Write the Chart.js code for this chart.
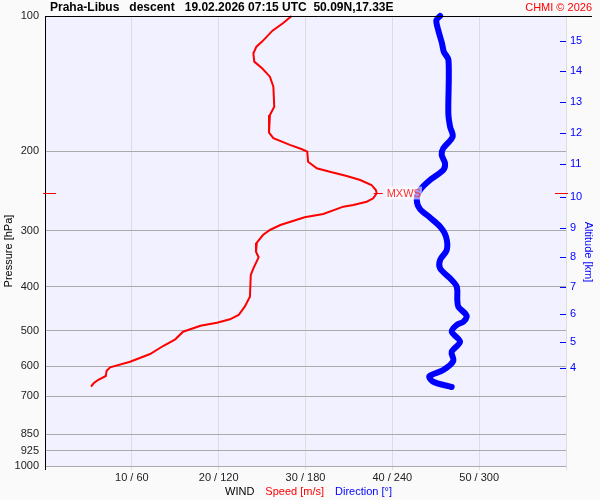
<!DOCTYPE html>
<html lang="en">
<head>
  <meta charset="UTF-8" />
  <title>Praha-Libus descent</title>
  <script src="https://cdn.jsdelivr.net/npm/chart.js"></script>
  <style>
    html, body { margin: 0; padding: 0; background: #fafafa; }
    #wrap { width: 600px; height: 500px; }
  </style>
</head>
<body>
  <div id="wrap"><canvas id="myChart" width="600" height="500"></canvas></div>

  <script>
    // pressure levels on the left axis (hPa)
    const pressTicks = [100, 200, 300, 400, 500, 600, 700, 850, 925, 1000];
    // altitude ticks on the right axis (km) and the pressure they sit at
    const altKm = [15, 14, 13, 12, 11, 10, 9, 8, 7, 6, 5, 4];
    const altP = [113.5, 132.7, 155.3, 182.3, 213.3, 252.1, 295.9, 343.8, 400.8, 460.1, 529.4, 604.7];
    // wind speed profile (m/s)
    const speedP = [100, 103.8, 107.8, 114.0, 117.0, 121.0, 126.3, 130.7, 136.4, 143.6,
      159.1, 166.0, 181.6, 186.9, 193.4, 197.8, 200.2, 210.8, 218.0, 221.8,
      226.7, 231.4, 237.4, 243.6, 247.7, 254.2, 258.6, 263.0, 265.3, 275.4,
      280.1, 291.4, 298.9, 306.7, 319.0, 334.0, 343.8, 363.7, 376.3, 420.6,
      442.6, 461.8, 472.1, 480.4, 487.8, 503.0, 523.0, 541.2, 563.8, 586.4,
      603.5, 614.1, 631.0, 644.0, 655.0, 666.5];
    const speedV = [28.4, 27.4, 26.2, 25.0, 24.35, 24.0, 24.1, 25.0, 25.9, 26.3,
      26.4, 25.9, 25.8, 26.3, 28.2, 29.6, 30.2, 30.3, 31.3, 32.8,
      34.75, 36.3, 37.6, 38.1, 38.2, 37.8, 37.05, 35.5, 34.35, 32.05,
      29.9, 27.1, 25.9, 25.1, 24.4, 24.3, 24.6, 24.0, 23.7, 23.6,
      23.0, 22.3, 21.3, 19.8, 17.9, 15.9, 15.0, 13.6, 12.1, 9.8,
      7.5, 7.1, 7.0, 6.1, 5.6, 5.3];
    // wind direction profile (deg)
    const dirP = [100, 102.1, 107.4, 115.0, 120.1, 125.3, 164.5, 176.2, 185.4, 196.8,
      203.6, 212.4, 219.9, 231.4, 243.6, 256.4, 268.5, 280.4, 293.9, 309.4,
      331.1, 348.5, 363.7, 382.8, 399.6, 427.8, 442.6, 457.8, 465.8, 477.9,
      486.0, 503.0, 529.4, 557.2, 584.3, 611.9, 631.9, 649.7, 667.5];
    const dirV = [273.0, 270.4, 271.7, 274.3, 275.6, 278.8, 278.7, 279.9, 281.7, 275.2,
      274.1, 276.4, 275.2, 266.0, 259.1, 256.9, 259.1, 266.0, 273.0, 277.1,
      277.6, 273.0, 273.0, 279.9, 284.5, 284.9, 285.6, 290.2, 291.4, 289.1,
      284.5, 281.0, 286.8, 281.0, 282.1, 275.2, 265.6, 268.3, 281.0];

    const FONT = '"Liberation Sans", Arial, sans-serif';

    // backgrounds, titles, altitude tick marks, MXWS marker
    const decor = {
      id: 'decor',
      beforeDraw(chart) {
        const { ctx, chartArea: a } = chart;
        ctx.save();
        ctx.fillStyle = '#fafafa';
        ctx.fillRect(0, 0, chart.width, chart.height);
        ctx.fillStyle = '#f1f1ff';
        ctx.fillRect(a.left, a.top, a.right - a.left, a.bottom - a.top);
        ctx.restore();
      },
      afterDraw(chart) {
        const { ctx, chartArea: a, scales } = chart;
        ctx.save();
        // frame lines
        ctx.strokeStyle = '#000';
        ctx.lineWidth = 1;
        ctx.beginPath();
        ctx.moveTo(a.left, a.top + 0.5);
        ctx.lineTo(592, a.top + 0.5);
        ctx.moveTo(a.left + 0.5, a.top);
        ctx.lineTo(a.left + 0.5, a.bottom + 4);
        ctx.stroke();

        // altitude tick marks (inside the plot)
        ctx.strokeStyle = '#0000ff';
        ctx.beginPath();
        altP.forEach(p => {
          const y = Math.round(scales.alt.getPixelForValue(p)) + 0.5;
          ctx.moveTo(a.right - 6, y);
          ctx.lineTo(a.right, y);
        });
        ctx.stroke();

        // max wind marker
        let mi = 0;
        speedV.forEach((v, i) => { if (v > speedV[mi]) mi = i; });
        const my = Math.round(scales.y.getPixelForValue(speedP[mi])) + 0.5;
        const mx = scales.x.getPixelForValue(speedV[mi]);
        ctx.strokeStyle = '#ff0000';
        ctx.beginPath();
        ctx.moveTo(a.left - 2, my); ctx.lineTo(a.left + 11, my);
        ctx.moveTo(a.right - 11, my); ctx.lineTo(a.right + 2, my);
        ctx.moveTo(mx - 3, my); ctx.lineTo(mx + 6, my);
        ctx.stroke();
        ctx.font = '11px ' + FONT;
        const tw = ctx.measureText('MXWS').width;
        ctx.fillStyle = 'rgba(255,255,255,0.6)';
        ctx.fillRect(mx + 9, my - 7, tw + 2, 13);
        ctx.fillStyle = '#ff3030';
        ctx.textBaseline = 'middle';
        ctx.fillText('MXWS', mx + 10, my + 0.5);

        // title
        ctx.textBaseline = 'alphabetic';
        ctx.font = 'bold 12px ' + FONT;
        ctx.fillStyle = '#000';
        ctx.fillText('Praha-Libus   descent   19.02.2026 07:15 UTC  50.09N,17.33E', 50, 11);
        ctx.font = '11px ' + FONT;
        ctx.fillStyle = '#ff0000';
        ctx.textAlign = 'right';
        ctx.fillText('CHMI \u00a9 2026', 592, 11);

        // bottom axis title in three colours
        ctx.textAlign = 'left';
        const parts = [['WIND', '#000'], ['Speed [m/s]', '#ff0000'], ['Direction [\u00b0]', '#0000ff']];
        let x = 225;
        parts.forEach(([t, c]) => {
          ctx.fillStyle = c;
          ctx.fillText(t, x, 495);
          x += ctx.measureText(t).width + 11;
        });

        // left axis title
        ctx.save();
        ctx.translate(12, 251);
        ctx.rotate(-Math.PI / 2);
        ctx.textAlign = 'center';
        ctx.fillStyle = '#000';
        ctx.fillText('Pressure [hPa]', 0, 0);
        ctx.restore();

        // right axis title
        ctx.save();
        ctx.translate(585, 252);
        ctx.rotate(Math.PI / 2);
        ctx.textAlign = 'center';
        ctx.fillStyle = '#0000ff';
        ctx.fillText('Altitude [km]', 0, 0);
        ctx.restore();

        ctx.restore();
      }
    };

    const ctx = document.getElementById('myChart').getContext('2d');
    new Chart(ctx, {
      type: 'scatter',
      data: {
        datasets: [
          {
            label: 'Direction',
            data: dirP.map((p, i) => ({ x: dirV[i], y: p })),
            xAxisID: 'xDir',
            yAxisID: 'y',
            showLine: true,
            borderColor: '#0000ff',
            borderWidth: 6,
            borderCapStyle: 'round',
            borderJoinStyle: 'round',
            tension: 0.3,
            pointRadius: 0,
            clip: 5
          },
          {
            label: 'Speed',
            data: speedP.map((p, i) => ({ x: speedV[i], y: p })),
            xAxisID: 'x',
            yAxisID: 'y',
            showLine: true,
            borderColor: '#ff0000',
            borderWidth: 2,
            tension: 0,
            pointRadius: 0,
            clip: 3
          }
        ]
      },
      options: {
        responsive: false,
        animation: false,
        layout: { padding: { top: 16, left: 0, right: 0, bottom: 0 } },
        plugins: { legend: { display: false }, tooltip: { enabled: false } },
        scales: {
          x: {
            type: 'linear',
            position: 'bottom',
            min: 0,
            max: 60,
            afterFit: s => { s.height = 34; },
            border: { display: false },
            grid: { color: '#dddddd', tickLength: 4 },
            ticks: {
              stepSize: 10,
              autoSkip: false,
              maxRotation: 0,
              padding: 1,
              color: '#222',
              font: { family: FONT, size: 11 },
              callback: v => (v > 0 && v < 60) ? v + ' / ' + v * 6 : ''
            }
          },
          xDir: {
            type: 'linear',
            display: false,
            min: 0,
            max: 360
          },
          y: {
            type: 'logarithmic',
            position: 'left',
            reverse: true,
            min: 100,
            max: 1000,
            afterFit: s => { s.width = 45; },
            afterBuildTicks: s => { s.ticks = pressTicks.map(v => ({ value: v })); },
            border: { display: false },
            grid: { color: '#aaaaaa', drawTicks: false },
            ticks: {
              padding: 6,
              autoSkip: false,
              color: '#222',
              font: { family: FONT, size: 11 },
              callback: v => String(v)
            }
          },
          alt: {
            type: 'logarithmic',
            position: 'right',
            reverse: true,
            min: 100,
            max: 1000,
            afterFit: s => { s.width = 34; },
            afterBuildTicks: s => { s.ticks = altP.map(v => ({ value: v })); },
            border: { display: false },
            grid: { display: false, drawTicks: false },
            ticks: {
              padding: 4,
              autoSkip: false,
              color: '#0000ff',
              font: { family: FONT, size: 11 },
              callback: (v, i) => String(altKm[i])
            }
          }
        }
      },
      plugins: [decor]
    });
  </script>
</body>
</html>
